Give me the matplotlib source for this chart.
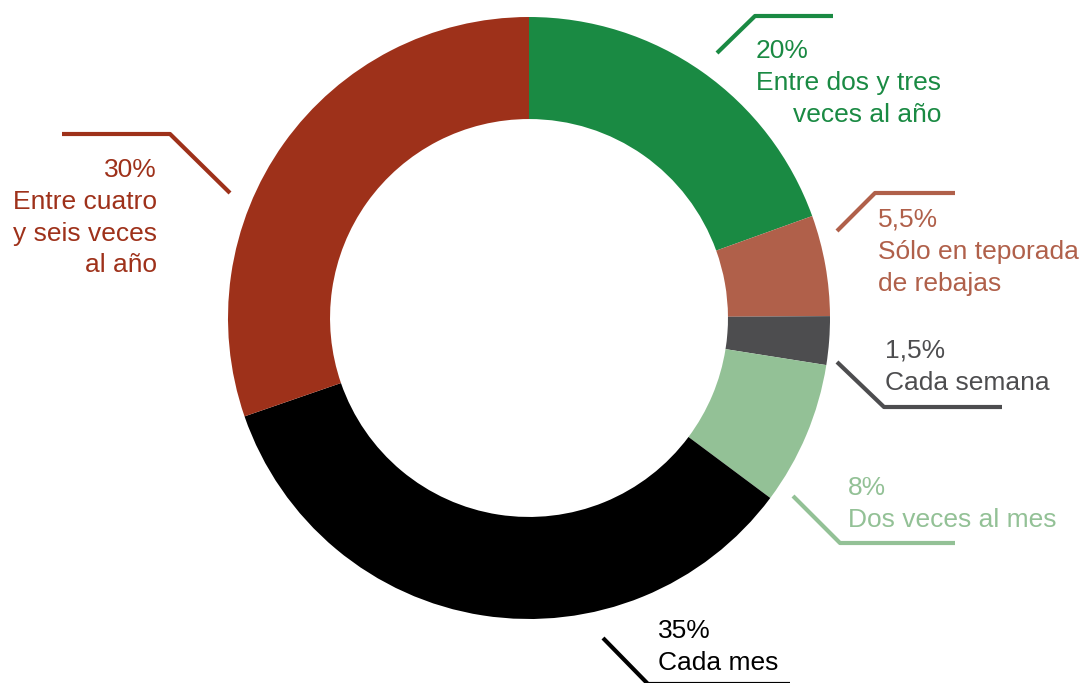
import matplotlib
matplotlib.use("Agg")
from matplotlib import pyplot as plt

# categorías en sentido horario desde arriba
categorias = ["Entre dos y tres veces al año", "Sólo en teporada de rebajas", "Cada semana",
              "Dos veces al mes", "Cada mes", "Entre cuatro y seis veces al año"]
# tamaño de los sectores tal como se ven en el gráfico
valores = [19.5, 5.4, 2.6, 7.7, 34.5, 30.3]
# porcentajes que dicen las etiquetas
etiquetas_pct = ["20%", "5,5%", "1,5%", "8%", "35%", "30%"]
colores = ["#1a8a43", "#b0604a", "#4d4d4f", "#93c196", "#000000", "#9e311a"]

# líneas de texto de cada etiqueta
lineas = [
    [etiquetas_pct[0], "Entre dos y tres", "veces al año"],
    [etiquetas_pct[1], "Sólo en teporada", "de rebajas"],
    [etiquetas_pct[2], "Cada semana"],
    [etiquetas_pct[3], "Dos veces al mes"],
    [etiquetas_pct[4], "Cada mes"],
    [etiquetas_pct[5], "Entre cuatro", "y seis veces", "al año"],
]

plt.rcParams['font.family'] = ['Liberation Sans', 'DejaVu Sans']

W, H = 1084, 683
cx, cy, R = 529, 318, 301

fig = plt.figure(figsize=(W / 100, H / 100), dpi=100)
ax = fig.add_axes([0, 0, 1, 1])

ax.pie(valores, colors=colores, startangle=90, counterclock=False, radius=1,
       wedgeprops=dict(width=0.339, edgecolor="none"))

# pie() cambia los límites, así que se fijan después
ax.set_xlim(-cx / R, (W - cx) / R)
ax.set_ylim((cy - H) / R, cy / R)
ax.set_aspect("equal")
ax.axis("off")


def p(x, y):
    # pixel de la imagen -> coordenadas de datos
    return (x - cx) / R, (cy - y) / R


# líneas guía (en píxeles)
guias = [
    [(717, 53), (755, 16), (833, 16)],
    [(837, 231), (875, 193), (955, 193)],
    [(837, 362), (884, 407), (1002, 407)],
    [(793, 496), (840, 543), (955, 543)],
    [(603, 638), (648, 684), (790, 684)],
    [(230, 193), (170, 134), (62, 134)],
]
for g, c in zip(guias, colores):
    pts = [p(x, y) for x, y in g]
    ax.plot([q[0] for q in pts], [q[1] for q in pts], color=c, lw=3, solid_capstyle="butt")

fs = 19
# posición (x, primera línea base, alineación) de cada etiqueta
pos_texto = [
    (756, 58, "left"),
    (878, 227, "left"),
    (885, 358, "left"),
    (848, 495, "left"),
    (658, 638, "left"),
    (157, 177, "right"),
]
paso = 31.8
for i, (x, y0, ha) in enumerate(pos_texto):
    for j, t in enumerate(lineas[i]):
        xx, yy = x, y0 + j * paso
        h = ha
        if i == 0 and j == 2:
            xx, h = 941, "right"
        ax.text(*p(xx, yy), t, color=colores[i], fontsize=fs, ha=h, va="baseline")

plt.savefig("out.png", dpi=100)
